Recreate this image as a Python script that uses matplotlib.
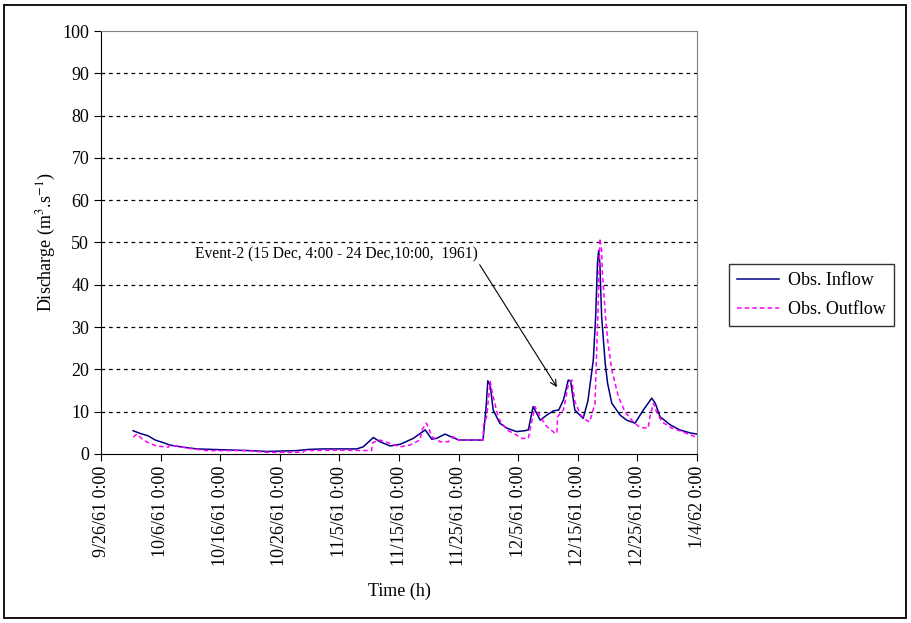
import numpy as np
import matplotlib.pyplot as plt

plt.rcParams['font.family'] = ['Liberation Serif', 'DejaVu Serif']
plt.rcParams['mathtext.fontset'] = 'stix'

# days after 9/26/61 0:00, discharge in m3/s
in_day = [5.4, 6.5, 7.9, 9.1, 10.2, 11.6, 13.8, 16.1, 20.5, 25.0, 27.8, 32.8, 35.0,
          37.3, 42.9, 44.0, 45.7, 46.8, 48.5, 50.2, 52.4, 54.4, 55.5, 56.3, 57.7,
          59.4, 60.0, 64.1, 64.6, 64.9, 65.3, 65.8, 66.9, 68.1, 69.7, 71.1, 71.7,
          72.5, 73.7, 74.8, 75.9, 76.8, 77.6, 78.4, 78.8, 79.5, 80.9, 81.7, 82.6,
          83.0, 83.3, 83.5, 83.7, 84.0, 84.6, 85.0, 85.7, 87.1, 88.2, 89.6, 91.0,
          92.4, 93.0, 93.8, 95.5, 97.1, 98.8, 100.0]
in_q = [5.5, 4.9, 4.3, 3.3, 2.8, 2.1, 1.6, 1.2, 1.0, 0.8, 0.6, 0.8, 1.1,
        1.2, 1.2, 1.7, 3.9, 2.9, 1.9, 2.3, 3.7, 5.7, 3.5, 3.7, 4.7,
        3.7, 3.3, 3.3, 10.8, 17.3, 16.3, 10.4, 7.3, 6.1, 5.3, 5.5, 5.7,
        11.2, 8.0, 9.2, 10.2, 10.4, 12.8, 17.5, 17.2, 10.4, 8.4, 12.6, 22.2,
        32.5, 45.1, 48.1, 45.1, 32.5, 21.4, 16.7, 12.0, 9.2, 8.0, 7.3, 10.4,
        13.2, 12.0, 8.8, 6.9, 5.7, 5.0, 4.7]

out_day = [5.4, 6.0, 7.1, 8.2, 9.3, 11.3, 11.6, 13.3, 14.9, 17.7, 24.4, 27.8, 33.9,
           34.2, 39.3, 45.4, 45.6, 46.8, 48.5, 50.2, 51.8, 53.5, 53.9, 54.6, 55.1,
           55.5, 56.9, 58.3, 59.1, 60.0, 64.1, 64.2, 64.7, 65.3, 65.8, 66.7, 68.1,
           69.7, 70.6, 71.7, 72.8, 73.7, 74.8, 76.2, 76.5, 76.6, 77.6, 78.4, 79.0,
           79.5, 80.5, 81.4, 82.0, 82.4, 82.9, 83.1, 83.4, 83.7, 84.0, 84.1, 84.6,
           85.0, 85.7, 86.8, 87.9, 89.3, 90.4, 91.8, 92.1, 92.7, 93.2, 94.1, 95.8,
           97.5, 100.0]
out_q = [4.0, 4.7, 3.3, 2.5, 1.9, 1.6, 2.1, 1.7, 1.3, 0.8, 0.8, 0.4, 0.4,
         0.8, 0.9, 0.8, 2.7, 3.3, 2.5, 1.7, 2.1, 3.3, 5.8, 7.3, 5.7,
         4.1, 2.9, 2.9, 4.1, 3.3, 3.3, 6.9, 8.8, 17.1, 13.6, 8.4, 5.7,
         4.5, 3.7, 3.7, 11.2, 8.8, 6.5, 4.9, 4.9, 8.8, 10.4, 16.3, 17.5,
         12.4, 9.2, 8.0, 7.6, 9.6, 12.0, 21.4, 34.0, 51.0, 48.2, 43.5, 33.3,
         27.0, 19.9, 13.6, 10.0, 7.6, 6.3, 6.1, 8.8, 12.0, 10.0, 7.6, 6.1,
         5.3, 3.9]

tick_days = np.arange(0, 101, 10)
tick_labels = ["9/26/61 0:00", "10/6/61 0:00", "10/16/61 0:00", "10/26/61 0:00",
               "11/5/61 0:00", "11/15/61 0:00", "11/25/61 0:00", "12/5/61 0:00",
               "12/15/61 0:00", "12/25/61 0:00", "1/4/62 0:00"]

fig = plt.figure(figsize=(9.11, 6.23), dpi=100)
ax = fig.add_axes([101/911, 1 - 454/623, 596/911, 423/623])

ax.plot(in_day, in_q, color="#000080", lw=1.1, label="Obs. Inflow")
ax.plot(out_day, out_q, color="#FF00FF", lw=1.1, ls=(0, (3, 2)), label="Obs. Outflow")

ax.set_xlim(0, 100)
ax.set_ylim(0, 100)
ax.set_yticks(np.arange(0, 101, 10))
ax.set_xticks(tick_days)
ax.set_xticklabels(tick_labels, rotation=90)
ax.tick_params(direction="out", length=5, labelsize=13, color="black")
for y in range(10, 100, 10):
    ax.axhline(y, color="black", lw=0.9, ls=(0, (3, 3)), zorder=0)
for s in ["top", "right"]:
    ax.spines[s].set_color("#808080")
ax.spines["left"].set_color("black")
ax.spines["bottom"].set_color("black")

ax.set_xlabel("Time (h)", fontsize=13, labelpad=12)
ax.set_ylabel("Discharge (m$^{3}$.s$^{-1}$)", fontsize=13, labelpad=3)

ax.annotate("Event-2 (15 Dec, 4:00 - 24 Dec,10:00,  1961)",
            xy=(76.5, 15.8), xytext=(15.8, 47.3), fontsize=11.2,
            va="center", ha="left",
            arrowprops=dict(arrowstyle="->", color="black", lw=0.8,
                            shrinkA=0, shrinkB=0,
                            relpos=(1.0, 0.0)))

leg = ax.legend(loc="center left", bbox_to_anchor=(628/596, (454 - 295)/423),
                frameon=True, fancybox=False, edgecolor="black", fontsize=13,
                handlelength=2.3, handletextpad=0.5, borderpad=0.45,
                labelspacing=0.65, borderaxespad=0)
leg.get_frame().set_linewidth(1.0)

fig.patches.append(plt.Rectangle((4/911, 5/623), 902/911, 613/623, transform=fig.transFigure,
                                 fill=False, edgecolor="black", lw=1.3))

fig.savefig("out.png", dpi=100)
